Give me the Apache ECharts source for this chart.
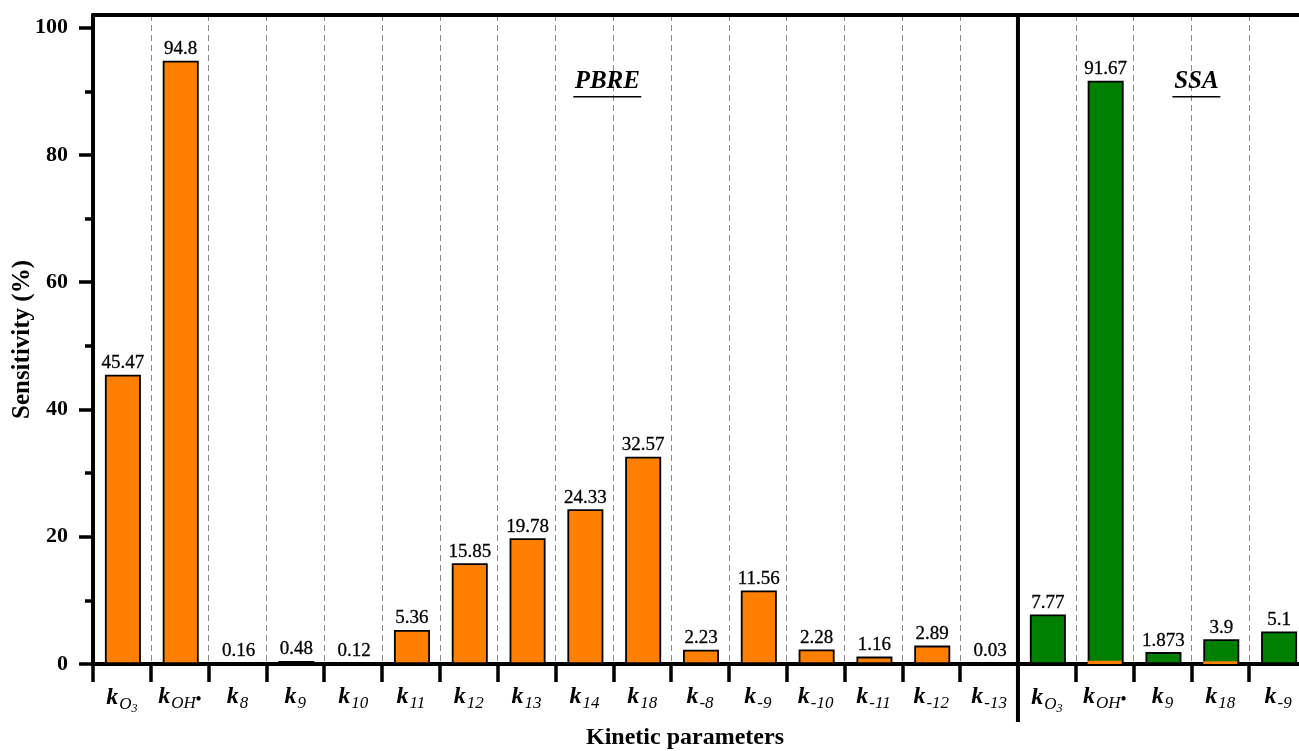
<!DOCTYPE html>
<html>
<head>
<meta charset="utf-8">
<script src="https://cdn.jsdelivr.net/npm/echarts@6/dist/echarts.min.js"></script>
<style>
  html, body { margin: 0; padding: 0; background: #fff; }
  #chart { width: 1299px; height: 751px; }
</style>
</head>
<body>
<div id="chart"></div>
<script>
// Rate-constant subscripts for each category (PBRE block then SSA block)
const subscripts = ['O3', 'OH•', '8', '9', '10', '11', '12', '13', '14', '18',
                    '-8', '-9', '-10', '-11', '-12', '-13',
                    'O3', 'OH•', '9', '18', '-9'];
const categories = subscripts.map((s, i) => 'k' + s + '#' + i);

// Sensitivity (%) in the PBRE block
const pbreValues = [45.47, 94.8, 0.16, 0.48, 0.12, 5.36, 15.85, 19.78, 24.33, 32.57,
                    2.23, 11.56, 2.28, 1.16, 2.89, 0.03];
// Sensitivity (%) in the SSA block
const ssaValues = [7.77, 91.67, 1.873, 3.9, 5.1];
// thin orange base visible inside two SSA bars
const ssaBase = [null, 0.5, null, 0.45, null];

const yTicks = [0, 20, 40, 60, 80, 100];
const yMinorTicks = [10, 30, 50, 70, 90];

const nPbre = pbreValues.length;
const orangeData = categories.map((c, i) => i < nPbre ? pbreValues[i] : null);
const greenData = categories.map((c, i) => i >= nPbre ? ssaValues[i - nPbre] : null);
const baseData = categories.map((c, i) => i >= nPbre ? ssaBase[i - nPbre] : null);

const SERIF = '"Liberation Serif", "Times New Roman", serif';
const Y_MAX = 102;

function catLabel(value) {
  const sub = value.split('#')[0].slice(1);
  if (sub === 'O3') return '{k|k}{s|O}{ss|3}';
  if (sub === 'OH•') return '{k|k}{s|OH}{d|•}';
  return '{k|k}{s|' + sub + '}';
}

const valueLabel = {
  show: true, position: 'top', distance: 2,
  fontFamily: SERIF, fontWeight: 'normal', fontSize: 19, color: '#000',
  textBorderColor: '#000', textBorderWidth: 0.3
};

const chart = echarts.init(document.getElementById('chart'));

const option = {
  animation: false,
  backgroundColor: '#ffffff',
  grid: { left: 93, top: 15, right: -8, bottom: 87, outerBoundsMode: 'none' },
  xAxis: [{
    type: 'category',
    data: categories,
    boundaryGap: true,
    position: 'bottom',
    name: 'Kinetic parameters',
    nameLocation: 'middle',
    nameGap: 62,
    nameMoveOverlap: false,
    nameTextStyle: {
      fontFamily: SERIF, fontWeight: 'bold', fontSize: 24, color: '#000',
      padding: [0, 30, 0, 0]
    },
    axisLine: { onZero: false, lineStyle: { color: '#000', width: 4 } },
    axisTick: { show: true, length: 18, lineStyle: { color: '#000', width: 3.5 } },
    splitLine: { show: true, lineStyle: { color: '#8a8a8a', width: 1, type: [6, 4] } },
    axisLabel: {
      interval: 0,
      margin: 17,
      formatter: catLabel,
      rich: {
        k: { fontFamily: SERIF, fontWeight: 'bold', fontStyle: 'italic', fontSize: 24, color: '#000' },
        s: { fontFamily: SERIF, fontStyle: 'italic', fontSize: 17, color: '#000', padding: [14, 0, 0, 1] },
        ss: { fontFamily: SERIF, fontStyle: 'italic', fontSize: 12, color: '#000', padding: [22, 0, 0, 0] },
        d: { fontFamily: SERIF, fontWeight: 'bold', fontSize: 16, color: '#000', padding: [6, 0, 0, 0] }
      }
    }
  }, {
    // plain frame line along the top
    type: 'category',
    data: categories,
    position: 'top',
    axisLine: { show: true, onZero: false, lineStyle: { color: '#000', width: 4 } },
    axisTick: { show: false },
    axisLabel: { show: false },
    splitLine: { show: false }
  }],
  yAxis: [{
    type: 'value',
    min: 0,
    max: Y_MAX,
    interval: 20,
    name: 'Sensitivity (%)',
    nameLocation: 'middle',
    nameGap: 58,
    nameMoveOverlap: false,
    nameTextStyle: { fontFamily: SERIF, fontWeight: 'bold', fontSize: 25, color: '#000' },
    axisLine: { show: true, onZero: false, lineStyle: { color: '#000', width: 4 } },
    axisTick: { show: true, length: 14, customValues: yTicks, lineStyle: { color: '#000', width: 3.5 } },
    axisLabel: {
      customValues: yTicks,
      margin: 25,
      fontFamily: SERIF, fontWeight: 'bold', fontSize: 22, color: '#000'
    },
    splitLine: { show: false }
  }, {
    // minor ticks halfway between the labelled ones
    type: 'value',
    min: 0,
    max: Y_MAX,
    interval: 10,
    position: 'left',
    axisLine: { show: false, onZero: false },
    axisTick: { show: true, length: 8, customValues: yMinorTicks, lineStyle: { color: '#000', width: 3.5 } },
    axisLabel: { show: false },
    splitLine: { show: false }
  }],
  series: [{
    name: 'PBRE',
    type: 'bar',
    data: orangeData,
    barWidth: 36,
    barGap: '-100%',
    itemStyle: { color: '#ff8000', borderColor: '#000', borderWidth: 1.8 },
    label: valueLabel,
    z: 3
  }, {
    name: 'SSA',
    type: 'bar',
    data: greenData,
    barWidth: 36,
    barGap: '-100%',
    itemStyle: { color: '#007f00', borderColor: '#000', borderWidth: 1.8 },
    label: valueLabel,
    z: 3
  }, {
    name: 'SSA base',
    type: 'bar',
    data: baseData,
    barWidth: 34,
    barGap: '-100%',
    itemStyle: { color: '#ff8000' },
    label: { show: false },
    z: 4
  }]
};

chart.setOption(option);

// separator between the two blocks plus the block titles
const px = i => chart.convertToPixel({ xAxisIndex: 0 }, categories[i]);
const py = v => chart.convertToPixel({ yAxisIndex: 0 }, v);
const sepX = (px(15) + px(16)) / 2;
const pbreX = (px(8) + px(9)) / 2 - 6;
const ssaX = (px(18) + px(19)) / 2 + 5;
const yTop = py(Y_MAX);
const yZero = py(0);
const yTitle = py(91.5);

function blockTitle(text, cx, w) {
  return [{
    type: 'text', x: cx, y: yTitle,
    style: {
      text: text, fontFamily: SERIF, fontWeight: 'bold', fontStyle: 'italic', fontSize: 25,
      fill: '#000', align: 'center', verticalAlign: 'middle'
    },
    z: 10
  }, {
    type: 'line',
    shape: { x1: cx - w / 2, y1: yTitle + 15, x2: cx + w / 2, y2: yTitle + 15 },
    style: { stroke: '#000', lineWidth: 1.5 },
    z: 10
  }];
}

chart.setOption({
  graphic: [{
    type: 'line',
    shape: { x1: sepX, y1: yTop, x2: sepX, y2: yZero + 58 },
    style: { stroke: '#000', lineWidth: 4 },
    z: 10
  }].concat(blockTitle('PBRE', pbreX, 68), blockTitle('SSA', ssaX, 48))
});
</script>
</body>
</html>
